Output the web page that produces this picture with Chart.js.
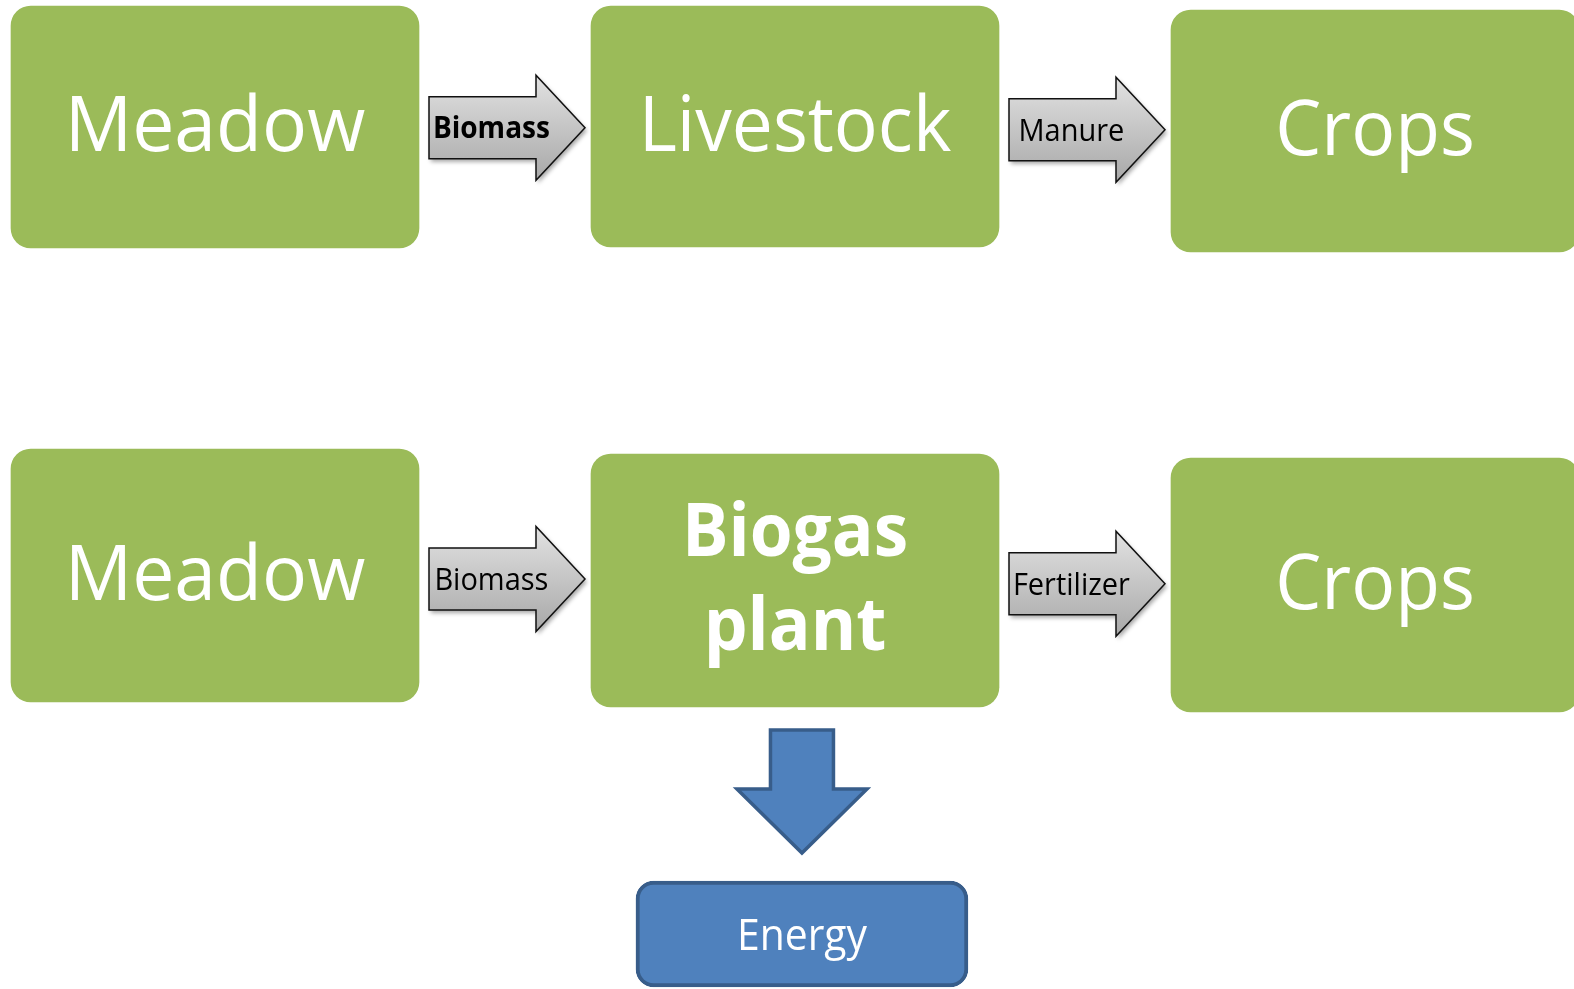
<!DOCTYPE html>
<html>
<head>
<meta charset="utf-8">
<script src="https://cdn.jsdelivr.net/npm/chart.js@4.4.1/dist/chart.umd.min.js"></script>
<style>
  html, body { margin: 0; padding: 0; background: #ffffff; overflow: hidden; }
  #wrap { width: 1574px; height: 989px; position: relative; }
</style>
</head>
<body>
<div id="wrap"><canvas id="c"></canvas></div>
<script>
// ---- diagram data ----
const nodeLabels  = ['Meadow', 'Livestock', 'Crops', 'Meadow', 'Biogas plant', 'Crops'];
const nodeColumn  = [0, 1, 2, 0, 1, 2];
const nodeTop     = [6, 6, 10, 449, 454, 458];
const nodeBottom  = [248, 247, 252, 702, 707, 712];

const flowLabels  = ['Biomass', 'Manure', 'Biomass', 'Fertilizer'];
const flowFrom    = [0, 1, 3, 4];
const flowTo      = [1, 2, 4, 5];

const outputLabel  = ['Energy'];
const outputFrom   = [4];
const outputColumn = [1.012];
const outputTop    = [881];
const outputBottom = [987];

// ---- styles ----
const style = {
  green: '#9bbb59',
  blue: '#4f81bd',
  blueDark: '#385d8a',
  font: '"Open Sans", "Noto Sans", sans-serif',
  condense: 0.95,
  capRatio: 0.714,
  nodeFont: 77,
  nodeBoldFont: 73,
  flowFont: 30.5,
  flowBoldFont: 29.5,
  outputFont: 43,
  boldNodes: ['Biogas plant'],
  flowBold: [true, false, false, false]
};

const nodeData = nodeLabels.map((_, i) => ({ x: nodeColumn[i], y: [nodeTop[i], nodeBottom[i]] }));
const outData  = outputLabel.map((_, i) => ({ x: outputColumn[i], y: [outputTop[i], outputBottom[i]] }));

function drawText(ctx, text, cx, baseline, size, bold, color, condense) {
  ctx.save();
  ctx.font = (bold ? 'bold ' : '') + size + 'px ' + style.font;
  ctx.fillStyle = color;
  ctx.textAlign = 'center';
  ctx.textBaseline = 'alphabetic';
  ctx.translate(cx, baseline);
  ctx.scale(condense || style.condense, 1);
  ctx.fillText(text, 0, 0);
  ctx.restore();
}

function boxOf(el) {
  const p = el.getProps(['x', 'y', 'base', 'width'], true);
  return {
    left: p.x - p.width / 2, right: p.x + p.width / 2,
    top: Math.min(p.y, p.base), bottom: Math.max(p.y, p.base),
    cx: p.x, cy: (p.y + p.base) / 2
  };
}

function hArrow(ctx, x0, x1, cy, bodyH, headH, headL) {
  const hx = x1 - headL;
  ctx.save();
  ctx.beginPath();
  ctx.moveTo(x0, cy - bodyH / 2);
  ctx.lineTo(hx, cy - bodyH / 2);
  ctx.lineTo(hx, cy - headH / 2);
  ctx.lineTo(x1, cy);
  ctx.lineTo(hx, cy + headH / 2);
  ctx.lineTo(hx, cy + bodyH / 2);
  ctx.lineTo(x0, cy + bodyH / 2);
  ctx.closePath();
  const g = ctx.createLinearGradient(0, cy - headH / 2, 0, cy + headH / 2);
  g.addColorStop(0, '#e2e2e2');
  g.addColorStop(1, '#a8a8a8');
  ctx.fillStyle = g;
  ctx.shadowColor = 'rgba(0,0,0,0.35)';
  ctx.shadowBlur = 4;
  ctx.shadowOffsetX = 2;
  ctx.shadowOffsetY = 3;
  ctx.fill();
  ctx.shadowColor = 'transparent';
  ctx.lineWidth = 1.5;
  ctx.strokeStyle = '#111111';
  ctx.lineJoin = 'miter';
  ctx.stroke();
  ctx.restore();
}

function vArrow(ctx, cx, y0, y1, bodyW, headW, headL) {
  const hy = y1 - headL;
  ctx.save();
  ctx.beginPath();
  ctx.moveTo(cx - bodyW / 2, y0);
  ctx.lineTo(cx + bodyW / 2, y0);
  ctx.lineTo(cx + bodyW / 2, hy);
  ctx.lineTo(cx + headW / 2, hy);
  ctx.lineTo(cx, y1);
  ctx.lineTo(cx - headW / 2, hy);
  ctx.lineTo(cx - bodyW / 2, hy);
  ctx.closePath();
  ctx.fillStyle = style.blue;
  ctx.fill();
  ctx.lineWidth = 3.5;
  ctx.strokeStyle = style.blueDark;
  ctx.stroke();
  ctx.restore();
}

const diagramPlugin = {
  id: 'diagram',
  afterDatasetsDraw(chart) {
    const ctx = chart.ctx;
    const nodes = chart.getDatasetMeta(0).data.map(boxOf);
    const outs = chart.getDatasetMeta(1).data.map(boxOf);

    // flows between nodes
    flowLabels.forEach((lab, i) => {
      const a = nodes[flowFrom[i]], b = nodes[flowTo[i]];
      const x0 = a.right + 10, x1 = b.left - 6;
      const cy = (a.cy + b.cy) / 2 + 1;
      hArrow(ctx, x0, x1, cy, 62, 105, 49);
      const bold = style.flowBold[i];
      const size = bold ? style.flowBoldFont : style.flowFont;
      const cap = size * style.capRatio;
      drawText(ctx, lab, x0 + (x1 - x0) * 0.4, cy + cap / 2, size, bold, '#000000');
    });

    // node labels
    nodeLabels.forEach((lab, i) => {
      const b = nodes[i];
      const bold = style.boldNodes.includes(lab);
      if (bold) {
        const words = lab.split(' ');
        const size = style.nodeBoldFont;
        const cap = size * style.capRatio;
        const lh = 94;
        const blockH = cap + lh * (words.length - 1);
        const top = b.cy - 3.5 - blockH / 2;
        words.forEach((w, k) => drawText(ctx, w, b.cx, top + cap + k * lh, size, true, '#ffffff'));
      } else {
        const size = style.nodeFont;
        const cap = size * style.capRatio;
        const cond = lab === 'Meadow' ? 0.975 : style.condense;
        drawText(ctx, lab, b.cx, b.cy + cap / 2 - 3, size, false, '#ffffff', cond);
      }
    });

    // outputs
    outputLabel.forEach((lab, i) => {
      const src = nodes[outputFrom[i]], o = outs[i];
      vArrow(ctx, o.cx, src.bottom + 23, o.top - 28, 63, 130, 64);
      const size = style.outputFont;
      const cap = size * style.capRatio;
      drawText(ctx, lab, o.cx, o.cy + cap / 2 + 1, size, false, '#ffffff');
    });
  }
};

const colSpacing = 580;
const xMin = -215 / colSpacing;

new Chart(document.getElementById('c'), {
  type: 'bar',
  data: {
    datasets: [
      {
        label: 'Stages',
        data: nodeData,
        backgroundColor: style.green,
        borderWidth: 0,
        borderRadius: 20,
        borderSkipped: false,
        barThickness: 408,
        grouped: false
      },
      {
        label: 'Output',
        data: outData,
        backgroundColor: style.blue,
        borderColor: style.blueDark,
        borderWidth: 4,
        borderRadius: 18,
        borderSkipped: false,
        barThickness: 332,
        grouped: false
      }
    ]
  },
  options: {
    responsive: true,
    maintainAspectRatio: false,
    animation: false,
    events: [],
    layout: { padding: 0 },
    plugins: { legend: { display: false }, tooltip: { enabled: false }, title: { display: false } },
    scales: {
      x: { type: 'linear', display: false, offset: false, bounds: 'data', min: xMin, max: xMin + 1574 / colSpacing, grid: { offset: false } },
      y: { type: 'linear', display: false, reverse: true, min: 0, max: 989 }
    }
  },
  plugins: [diagramPlugin]
});
</script>
</body>
</html>
